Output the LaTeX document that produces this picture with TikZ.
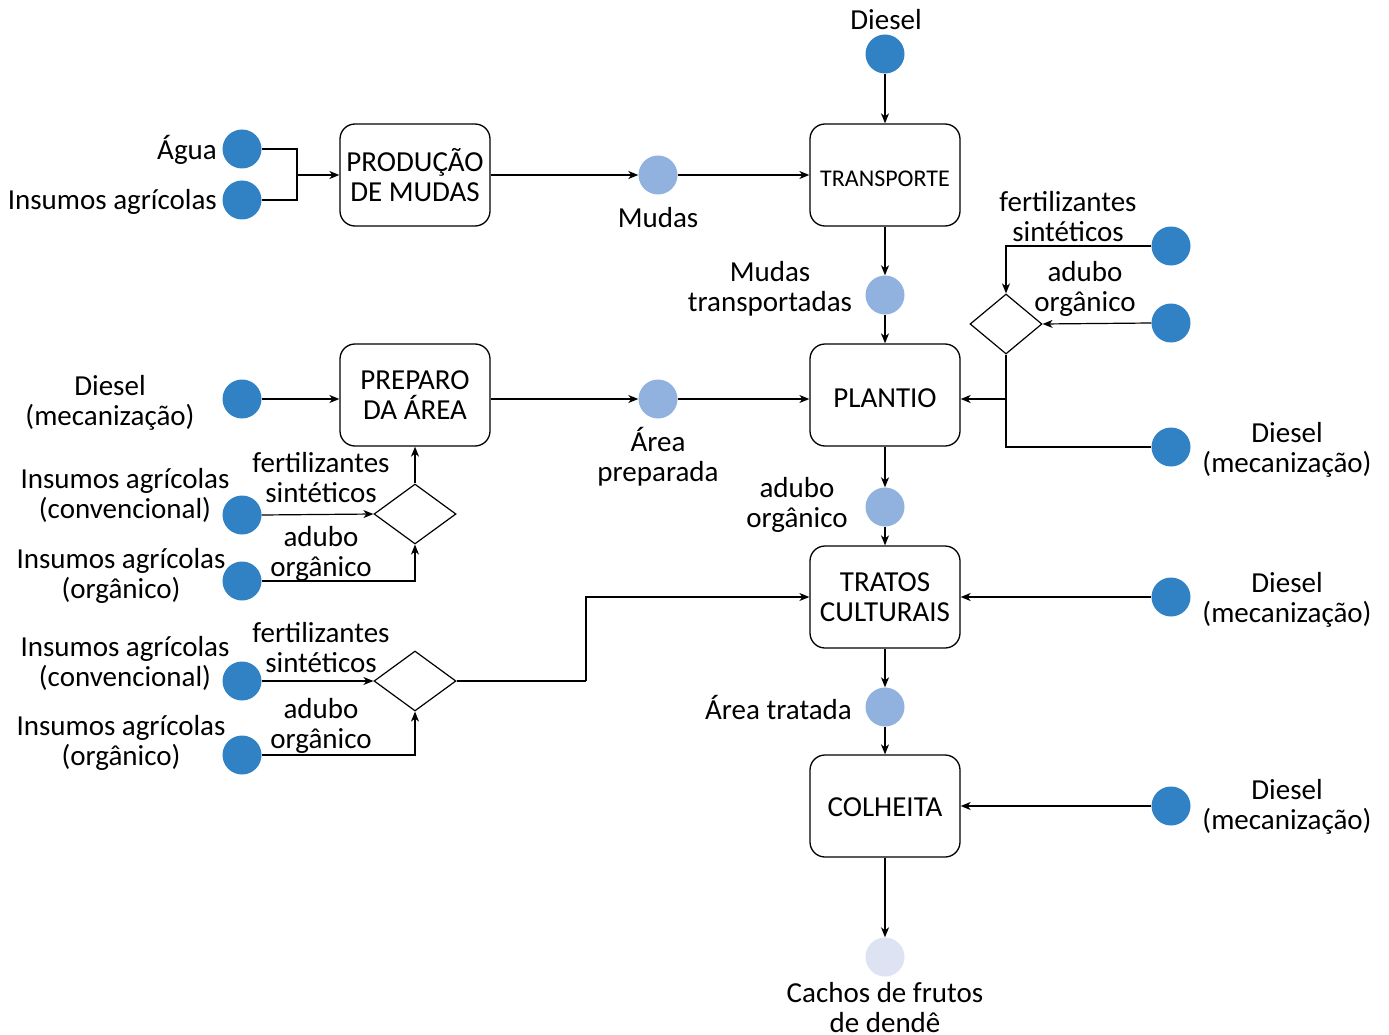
\documentclass[tikz,border=0pt]{standalone}
\usepackage{fontspec}
\setmainfont{Carlito}
\usetikzlibrary{arrows.meta,shapes.geometric}
\definecolor{dblue}{RGB}{49,130,197}
\definecolor{lblue}{RGB}{145,178,222}
\definecolor{pblue}{RGB}{221,227,243}
\begin{document}
\begin{tikzpicture}[x=1pt,y=-1pt,
  every node/.style={font=\fontsize{29}{30}\selectfont, inner sep=0pt},
  proc/.style={draw, rounded corners=15pt, minimum width=150pt, minimum height=102pt, align=center, line width=1.3pt},
  src/.style={circle, fill=dblue, minimum size=39pt},
  mid/.style={circle, fill=lblue, minimum size=39pt},
  fin/.style={circle, fill=pblue, minimum size=39pt},
  dec/.style={diamond, draw, line width=1.2pt, minimum width=82pt, minimum height=60pt},
  lbl/.style={align=center},
  conn/.style={line width=1.2pt},
  arr/.style={conn, -{Stealth[length=10pt,width=8pt,inset=3pt]}}]
\useasboundingbox (0,0) rectangle (1389,1035);

% process boxes
\node[proc] (prod) at (415,175) {PRODUÇÃO\\DE MUDAS};
\node[proc, font=\fontsize{24}{26}\selectfont, text height=24pt] (trans) at (885,175) {TRANSPORTE};
\node[proc] (prep) at (415,395) {PREPARO\\DA ÁREA};
\node[proc, text height=25pt] (plant) at (885,395) {PLANTIO};
\node[proc] (trat) at (885,597) {TRATOS\\CULTURAIS};
\node[proc, text height=22pt] (colh) at (885,806) {COLHEITA};

% diamonds
\node[dec, minimum width=72pt] (dR) at (1006,324) {};
\node[dec] (dL1) at (415,514) {};
\node[dec] (dL2) at (415,681) {};

% circles
\node[src] (cDtop) at (885,54) {};
\node[src] (cAgua) at (242,149) {};
\node[src] (cIns) at (242,200) {};
\node[mid] (cMudas) at (658,175) {};
\node[mid] (cMT) at (885,295) {};
\node[src] (cFR) at (1171,246) {};
\node[src] (cAR) at (1171,323) {};
\node[src] (cDR1) at (1171,447) {};
\node[src] (cDL) at (242,399) {};
\node[mid] (cAP) at (658,399) {};
\node[src] (cC1) at (242,515) {};
\node[src] (cO1) at (242,581) {};
\node[mid] (cAO) at (885,507) {};
\node[src] (cDR2) at (1171,597) {};
\node[src] (cC2) at (242,681) {};
\node[src] (cO2) at (242,755) {};
\node[mid] (cAT) at (885,707) {};
\node[src] (cDR3) at (1171,806) {};
\node[fin] (cCach) at (885,957) {};

% labels
\node[lbl] (lDtop) at (886,20) {Diesel};
\node[lbl, anchor=east] (lAgua) at (217,150) {Água};
\node[lbl, anchor=east] (lIns) at (217,202) {Insumos agrícolas};
\node[lbl] (lMudas) at (658,218) {Mudas};
\node[lbl] (lMT) at (770,289) {Mudas\\transportadas};
\node[lbl] (lFR) at (1068,217) {fertilizantes\\sintéticos};
\node[lbl] (lAR) at (1085,289) {adubo\\orgânico};
\node[lbl] (lDR1) at (1287,450) {Diesel\\(mecanização)};
\node[lbl] (lDL) at (110,403) {Diesel\\(mecanização)};
\node[lbl] (lAP) at (658,457) {Área\\preparada};
\node[lbl] (lC1) at (125,495) {Insumos agrícolas\\(convencional)};
\node[lbl] (lF1) at (321,478) {fertilizantes\\sintéticos};
\node[lbl] (lA1) at (321,554) {adubo\\orgânico};
\node[lbl] (lO1) at (121,576) {Insumos agrícolas\\(orgânico)};
\node[lbl] (lAO) at (797,505) {adubo\\orgânico};
\node[lbl] (lDR2) at (1287,600) {Diesel\\(mecanização)};
\node[lbl] (lC2) at (125,663) {Insumos agrícolas\\(convencional)};
\node[lbl] (lF2) at (321,648) {fertilizantes\\sintéticos};
\node[lbl] (lA2) at (321,726) {adubo\\orgânico};
\node[lbl] (lO2) at (121,743) {Insumos agrícolas\\(orgânico)};
\node[lbl, anchor=east] (lAT) at (852,707) {Área tratada};
\node[lbl] (lDR3) at (1287,807) {Diesel\\(mecanização)};
\node[lbl] (lCach) at (885,1008) {Cachos de frutos\\de dendê};

% junction coordinates
\coordinate (jA) at (297,175);
\coordinate (jR) at (1006,399);
\coordinate (jL2) at (586,681);

% connectors
\draw[conn] (cAgua.east) -| (jA);
\draw[conn] (cIns.east) -| (jA);
\draw[arr] (jA) -- (prod.west |- jA);
\draw[arr] (prod.east |- cMudas) -- (cMudas.west);
\draw[arr] (cMudas.east) -- (trans.west |- cMudas);
\draw[arr] (cDtop.south) -- (trans.north);
\draw[arr] (trans.south) -- (cMT.north);
\draw[arr] (cMT.south) -- (plant.north);

\draw[arr] (cFR.west) -| (dR.north);
\draw[arr] (cAR.west) -- (dR.east);
\draw[conn] (dR.south) -- (jR);
\draw[conn] (cDR1.west) -| (jR);
\draw[arr] (jR) -- (plant.east |- jR);

\draw[arr] (cDL.east) -- (prep.west |- cDL);
\draw[arr] (prep.east |- cAP) -- (cAP.west);
\draw[arr] (cAP.east) -- (plant.west |- cAP);

\draw[arr] (cC1.east) -- (dL1.west);
\draw[arr] (cO1.east) -| (dL1.south);
\draw[arr] (dL1.north) -- (prep.south);

\draw[arr] (plant.south) -- (cAO.north);
\draw[arr] (cAO.south) -- (trat.north);
\draw[arr] (cDR2.west) -- (trat.east);

\draw[arr] (cC2.east) -- (dL2.west);
\draw[arr] (cO2.east) -| (dL2.south);
\draw[conn] (dL2.east) -- (jL2);
\draw[arr] (jL2) |- (trat.west);

\draw[arr] (trat.south) -- (cAT.north);
\draw[arr] (cAT.south) -- (colh.north);
\draw[arr] (cDR3.west) -- (colh.east);
\draw[arr] (colh.south) -- (cCach.north);
\end{tikzpicture}
\end{document}
